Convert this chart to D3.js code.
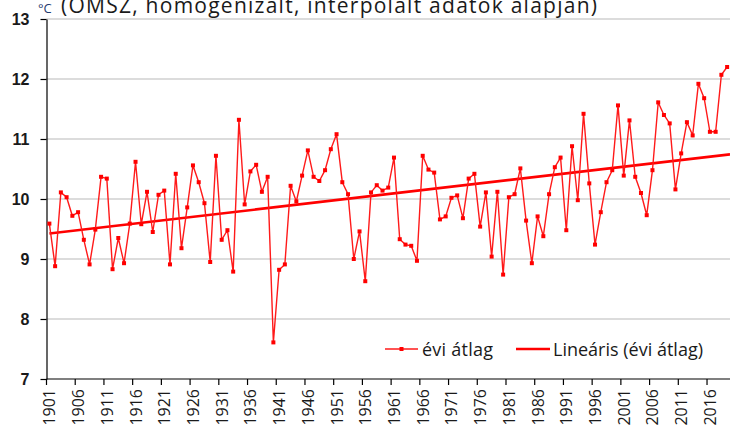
<!DOCTYPE html>
<html>
<head>
<meta charset="utf-8">
<script src="https://cdn.jsdelivr.net/npm/d3@7"></script>
<style>
  body { margin: 0; background: #fff; }
  svg { display: block; font-family: "Open Sans", sans-serif; }
  .grid line { stroke: #d0d0d0; stroke-width: 1.5; }
  .axis path, .axis line { stroke: #000; stroke-width: 1.2; }
  .axis text { fill: #1a1a1a; font-size: 16px; }
</style>
</head>
<body>
<div id="chart"></div>
<script>
// annual mean temperature (°C)
const firstYear = 1901;
const temps = [
  9.59, 8.88, 10.11, 10.03, 9.72, 9.78, 9.32, 8.91, 9.49, 10.37,
  10.34, 8.83, 9.35, 8.93, 9.59, 10.62, 9.58, 10.12, 9.45, 10.07,
  10.14, 8.91, 10.42, 9.18, 9.86, 10.56, 10.28, 9.93, 8.95, 10.72,
  9.32, 9.48, 8.79, 11.32, 9.91, 10.46, 10.57, 10.12, 10.37, 7.61,
  8.82, 8.91, 10.22, 9.96, 10.39, 10.81, 10.37, 10.30, 10.48, 10.83,
  11.08, 10.28, 10.08, 9.00, 9.46, 8.63, 10.11, 10.23, 10.14, 10.19,
  10.69, 9.33, 9.24, 9.22, 8.97, 10.72, 10.49, 10.44, 9.66, 9.71,
  10.02, 10.06, 9.68, 10.34, 10.42, 9.54, 10.11, 9.04, 10.12, 8.74,
  10.03, 10.08, 10.51, 9.64, 8.93, 9.71, 9.38, 10.08, 10.53, 10.69,
  9.48, 10.88, 9.98, 11.42, 10.26, 9.24, 9.78, 10.28, 10.48, 11.56,
  10.39, 11.31, 10.37, 10.10, 9.73, 10.48, 11.61, 11.40, 11.26, 10.16,
  10.76, 11.28, 11.06, 11.92, 11.68, 11.12, 11.12, 12.07, 12.20
];
const years = temps.map((t, i) => firstYear + i);
const tickYears = [1901, 1906, 1911, 1916, 1921, 1926, 1931, 1936, 1941, 1946,
  1951, 1956, 1961, 1966, 1971, 1976, 1981, 1986, 1991, 1996, 2001, 2006, 2011, 2016];
const yTicks = [7, 8, 9, 10, 11, 12, 13];
const titleUnit = "°C";
const titleText = "(OMSZ, homogenizált, interpolált adatok alapján)";
const legendLabels = ["évi átlag", "Lineáris (évi átlag)"];

const data = years.map((yr, i) => ({ year: yr, t: temps[i] }));

const W = 730, H = 428;
const m = { left: 46.5, right: 730, top: 19, bottom: 379 };

const svg = d3.select("#chart").append("svg")
  .attr("width", W).attr("height", H);

const x = d3.scaleBand().domain(years).range([m.left, m.right]).padding(0);
const y = d3.scaleLinear().domain([7, 13]).range([m.bottom, m.top]);
const cx = d => x(d) + x.bandwidth() / 2;

// gridlines
svg.append("g").attr("class", "grid")
  .selectAll("line")
  .data(yTicks.filter(v => v > 7))
  .join("line")
  .attr("x1", m.left).attr("x2", m.right)
  .attr("y1", d => y(d)).attr("y2", d => y(d));

// y axis
svg.append("g").attr("class", "axis")
  .attr("transform", `translate(${m.left},0)`)
  .call(d3.axisLeft(y).tickValues(yTicks).tickFormat(d3.format("d"))
    .tickSize(6).tickSizeOuter(0).tickPadding(11))
  .call(g => g.selectAll("text").attr("font-weight", "bold").attr("fill", "#222"));

// x axis: labels centred in category, ticks on category borders
const xAxis = svg.append("g").attr("class", "axis")
  .attr("transform", `translate(0,${m.bottom})`);
xAxis.append("line")
  .attr("x1", m.left).attr("x2", m.right).attr("y1", 0).attr("y2", 0);
xAxis.selectAll(".tk")
  .data(tickYears)
  .join("line")
  .attr("class", "tk")
  .attr("x1", d => x(d)).attr("x2", d => x(d))
  .attr("y1", 0).attr("y2", 6);
xAxis.selectAll(".lb")
  .data(tickYears)
  .join("text")
  .attr("class", "lb")
  .attr("text-anchor", "end")
  .attr("transform", "rotate(-90)")
  .attr("x", -10)
  .attr("y", d => cx(d) + 6)
  .text(d => d);

// linear trend (least squares)
const n = data.length;
const mx = d3.mean(data, d => d.year), my = d3.mean(data, d => d.t);
const slope = d3.sum(data, d => (d.year - mx) * (d.t - my)) / d3.sum(data, d => (d.year - mx) ** 2);
const fit = yr => my + slope * (yr - mx);

svg.append("line")
  .attr("x1", cx(years[0])).attr("y1", y(fit(years[0])))
  .attr("x2", m.right).attr("y2", y(fit(years[n - 1]) + slope * 0.5))
  .attr("stroke", "#ff0000").attr("stroke-width", 2.6);

// annual series
const line = d3.line().x(d => cx(d.year)).y(d => y(d.t));
svg.append("path")
  .datum(data)
  .attr("d", line)
  .attr("fill", "none")
  .attr("stroke", "#ff1a1a")
  .attr("stroke-width", 1.4);

svg.append("g")
  .selectAll("rect")
  .data(data)
  .join("rect")
  .attr("x", d => cx(d.year) - 2)
  .attr("y", d => y(d.t) - 2)
  .attr("width", 4).attr("height", 4)
  .attr("fill", "#ff0000");

// legend
const lg = svg.append("g").attr("font-size", "18px").attr("fill", "#1a1a1a");
lg.append("line").attr("x1", 385).attr("x2", 418).attr("y1", 349).attr("y2", 349)
  .attr("stroke", "#ff1a1a").attr("stroke-width", 1.4);
lg.append("rect").attr("x", 399.5).attr("y", 347).attr("width", 4).attr("height", 4).attr("fill", "#ff0000");
lg.append("text").attr("x", 422).attr("y", 355.5).attr("textLength", 71).text(legendLabels[0]);
lg.append("line").attr("x1", 516).attr("x2", 550).attr("y1", 349).attr("y2", 349)
  .attr("stroke", "#ff0000").attr("stroke-width", 2.6);
lg.append("text").attr("x", 553).attr("y", 355.5).attr("textLength", 150).text(legendLabels[1]);

// title (top is cut off in the original)
const tt = svg.append("text").attr("y", 13).attr("fill", "#1a1a1a");
tt.append("tspan").attr("x", 38).attr("font-size", "13px").attr("fill", "#1f3b6e").text(titleUnit);
tt.append("tspan").attr("x", 61).attr("font-size", "21px").attr("textLength", 536).text(titleText);
</script>
</body>
</html>
